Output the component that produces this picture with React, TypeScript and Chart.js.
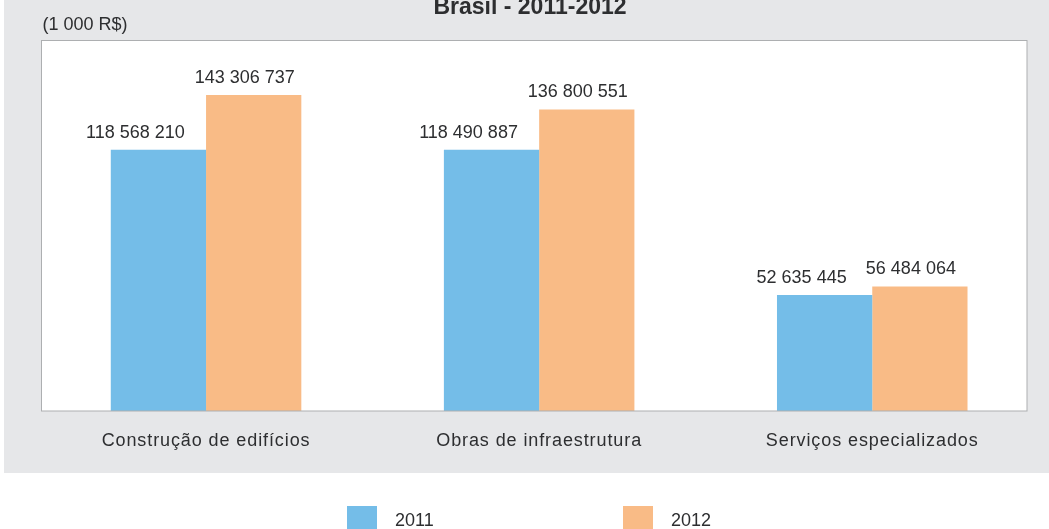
import { useEffect, useRef } from "react";
import { Chart, registerables } from "chart.js";

Chart.register(...registerables);

const categories = ["Construção de edifícios", "Obras de infraestrutura", "Serviços especializados"];
const seriesLabels = ["2011", "2012"];
const values2011 = [118568210, 118490887, 52635445];
const values2012 = [143306737, 136800551, 56484064];
const yMin = 0;
const yMax = 168300000;
const titleText = "Brasil - 2011-2012";
const unitText = "(1 000 R$)";

const FONT = "'Liberation Sans', Arial, sans-serif";
const TEXT = "#2d2e30";
const GRAY = "#e6e7e9";
const BLUE = "#74bde8";
const ORANGE = "#f9bb86";
const FRAME = "#adafb1";
const LABEL_SHIFT = [-23, -9];
const LEGEND_X = [347, 623];

const fmt = (v: number) => String(v).replace(/\B(?=(\d{3})+(?!\d))/g, " ");

const decor = {
  id: "decor",
  beforeDraw(chart: any) {
    const ctx = chart.ctx as CanvasRenderingContext2D;
    ctx.save();
    ctx.fillStyle = "#ffffff";
    ctx.fillRect(0, 0, chart.width, chart.height);
    ctx.fillStyle = GRAY;
    ctx.fillRect(4, 0, chart.width - 4, 473);
    ctx.fillStyle = "#ffffff";
    ctx.fillRect(42, 41, 985, 370);
    ctx.fillStyle = TEXT;
    ctx.textBaseline = "alphabetic";
    ctx.font = `bold 23px ${FONT}`;
    ctx.textAlign = "center";
    ctx.fillText(titleText, 530, 14);
    ctx.font = `18px ${FONT}`;
    ctx.textAlign = "left";
    ctx.fillText(unitText, 42.5, 30);
    ctx.restore();
    (ctx as any).letterSpacing = "0.9px";
  },
  afterDatasetsDraw(chart: any) {
    const ctx = chart.ctx as CanvasRenderingContext2D;
    ctx.save();
    (ctx as any).letterSpacing = "0px";
    ctx.strokeStyle = FRAME;
    ctx.lineWidth = 1;
    ctx.strokeRect(41.5, 40.5, 985.5, 370.5);
    ctx.fillStyle = TEXT;
    ctx.font = `18px ${FONT}`;
    ctx.textAlign = "center";
    ctx.textBaseline = "alphabetic";
    chart.data.datasets.forEach((ds: any, di: number) => {
      const meta = chart.getDatasetMeta(di);
      meta.data.forEach((el: any, i: number) => {
        ctx.fillText(fmt(ds.data[i]), el.x + LABEL_SHIFT[di], el.y - 12);
      });
    });
    ctx.restore();
  },
  afterDraw(chart: any) {
    const ctx = chart.ctx as CanvasRenderingContext2D;
    ctx.save();
    (ctx as any).letterSpacing = "0px";
    ctx.font = `18px ${FONT}`;
    ctx.textAlign = "left";
    ctx.textBaseline = "alphabetic";
    chart.data.datasets.forEach((ds: any, di: number) => {
      const x = LEGEND_X[di];
      ctx.fillStyle = ds.backgroundColor;
      ctx.fillRect(x, 506, 30, 30);
      ctx.fillStyle = TEXT;
      ctx.fillText(ds.label, x + 48, 526);
    });
    ctx.restore();
  },
};

export default function App() {
  const ref = useRef<HTMLCanvasElement | null>(null);
  useEffect(() => {
    if (!ref.current) return;
    const chart = new Chart(ref.current, {
      type: "bar",
      data: {
        labels: categories,
        datasets: [
          { label: seriesLabels[0], data: values2011, backgroundColor: BLUE, borderWidth: 0, barPercentage: 1, categoryPercentage: 0.572 },
          { label: seriesLabels[1], data: values2012, backgroundColor: ORANGE, borderWidth: 0, barPercentage: 1, categoryPercentage: 0.572 },
        ],
      },
      options: {
        animation: false,
        responsive: false,
        devicePixelRatio: 1,
        layout: { padding: { left: 39.5, right: 10.2, top: 40, bottom: 58 } },
        scales: {
          x: {
            grid: { display: false, drawTicks: false },
            border: { display: false },
            ticks: { font: { family: FONT, size: 18 }, color: TEXT, padding: 19, maxRotation: 0, autoSkip: false },
            afterFit: (s: any) => {
              s.height = 60;
            },
          },
          y: { display: false, min: yMin, max: yMax },
        },
        plugins: { legend: { display: false }, tooltip: { enabled: false }, title: { display: false } },
      },
      plugins: [decor],
    });
    return () => chart.destroy();
  }, []);
  return (
    <div style={{ position: "fixed", left: 0, top: 0, width: 1049, height: 529 }}>
      <canvas ref={ref} width={1049} height={529} style={{ display: "block", width: 1049, height: 529 }} />
    </div>
  );
}
